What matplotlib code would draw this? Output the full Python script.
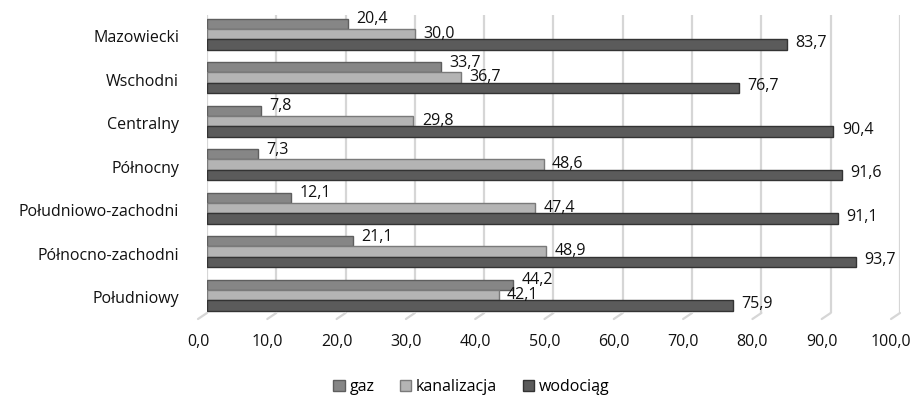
import numpy as np
import matplotlib.pyplot as plt
from matplotlib.patches import ConnectionPatch
from matplotlib.ticker import FuncFormatter

plt.rcParams['font.family'] = ['Open Sans', 'DejaVu Sans']

regions = ['Mazowiecki', 'Wschodni', 'Centralny', 'Północny',
           'Południowo-zachodni', 'Północno-zachodni', 'Południowy']
gaz = [20.4, 33.7, 7.8, 7.3, 12.1, 21.1, 44.2]
kanalizacja = [30.0, 36.7, 29.8, 48.6, 47.4, 48.9, 42.1]
wodociag = [83.7, 76.7, 90.4, 91.6, 91.1, 93.7, 75.9]
ticks = np.arange(0, 101, 10)

# name, values, fill, edge, vertical nudge of the value label
series = [('gaz', gaz, '#868686', '#5e5e5e', -0.11),
          ('kanalizacja', kanalizacja, '#b4b4b4', '#7a7a7a', -0.01),
          ('wodociąg', wodociag, '#5b5b5b', '#333333', -0.04)]

comma = lambda v: f'{v:.1f}'.replace('.', ',')
fs = 11.5

fig = plt.figure(figsize=(9.15, 3.98), dpi=100)
# back wall (bars + gridlines)
ax = fig.add_axes([0.2262, 0.2136, 0.7574, 0.7487])
# front edge of the floor, carries the value axis labels
ax2 = fig.add_axes([0.2164, 0.1985, 0.7574, 0.001])

y = np.arange(len(regions))
h = 0.238
for i, (name, vals, col, edge, dy) in enumerate(series):
    pos = y + (i - 1) * h
    ax.barh(pos, vals, height=h, color=col, edgecolor=edge, linewidth=1.0,
            label=name, zorder=3)
    for p, v in zip(pos, vals):
        ax.text(v + 1.2, p + dy, comma(v), va='center', ha='left',
                fontsize=fs, color='#111111', zorder=4)

ax.set_xlim(0, 100)
ax.set_ylim(6.41, -0.44)
ax.set_xticks(ticks)
ax.set_xticklabels([])
ax.set_yticks(y + 0.05)
ax.set_yticklabels(regions)
ax.tick_params(axis='both', length=0, labelsize=fs, colors='#111111')
ax.tick_params(axis='y', pad=20)
ax.grid(axis='x', color='#d6d6d6', linewidth=1.6, zorder=0)
for s in ax.spines.values():
    s.set_visible(False)

ax2.set_xlim(0, 100)
ax2.set_ylim(0, 1)
ax2.set_xticks(ticks)
ax2.xaxis.set_major_formatter(FuncFormatter(lambda v, _: comma(v)))
ax2.set_yticks([])
ax2.tick_params(axis='x', length=0, labelsize=fs, colors='#111111', pad=11)
ax2.patch.set_visible(False)
for s in ax2.spines.values():
    s.set_visible(False)

# short slanted lines joining the gridlines to the floor edge
for t in ticks:
    fig.add_artist(ConnectionPatch(xyA=(t, 6.41), coordsA=ax.transData,
                                   xyB=(t, 0), coordsB=ax2.transData,
                                   color='#d6d6d6', linewidth=1.6))

handles, labels = ax.get_legend_handles_labels()
fig.legend(handles, labels, loc='center', bbox_to_anchor=(0.515, 0.028), ncol=3,
           frameon=False, fontsize=fs, handlelength=0.7, handleheight=0.7,
           handletextpad=0.3, columnspacing=1.6)

fig.savefig('out.png', dpi=100)
